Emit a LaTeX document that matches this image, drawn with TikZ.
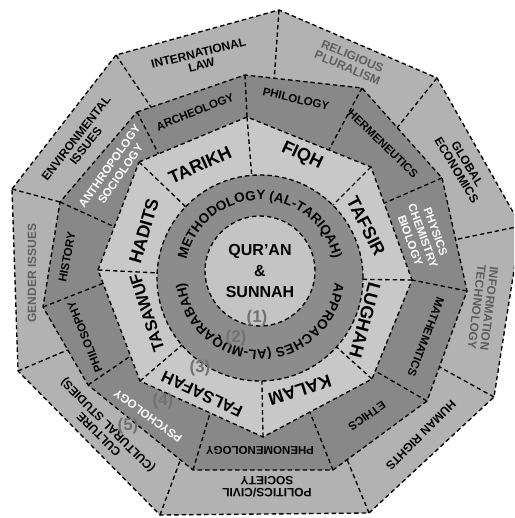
\documentclass[tikz,border=0pt]{standalone}
\usepackage{fontspec}
\setmainfont{Liberation Sans}
\usetikzlibrary{calc,decorations.text}
\definecolor{outerc}{HTML}{B2B2B2}
\definecolor{darkc}{HTML}{888888}
\definecolor{octc}{HTML}{C8C8C8}
\definecolor{methc}{HTML}{8C8C8C}
\definecolor{innerc}{HTML}{C4C4C4}
\definecolor{lbgray}{HTML}{5E5E5E}
\definecolor{numgray}{HTML}{727272}
\begin{document}
\begin{tikzpicture}[x=1pt,y=-1pt,
  dl/.style={draw=black, line width=1.35pt, dash pattern=on 4.5pt off 3pt},
  outerlbl/.style={font=\bfseries\fontsize{12}{12.5}\selectfont, align=center, inner sep=0pt},
  midlbl/.style={font=\bfseries\fontsize{11.5}{13.5}\selectfont, align=center, inner sep=0pt},
  octlbl/.style={font=\bfseries\fontsize{18}{19}\selectfont, inner sep=0pt},
  octsmall/.style={font=\bfseries\fontsize{16.5}{18}\selectfont, inner sep=0pt},
  numlbl/.style={font=\bfseries\fontsize{17}{17}\selectfont, text=numgray, inner sep=0pt},
  cenlbl/.style={font=\bfseries\fontsize{16}{21}\selectfont, align=center, inner sep=0pt}]
\useasboundingbox (0,0) rectangle (514,518);
\clip (0,0) rectangle (514,518);
% outer boundary
\coordinate (o1) at (12,189);
\coordinate (o2) at (116,55);
\coordinate (o3) at (279,10);
\coordinate (o4) at (437,78);
\coordinate (o5) at (521,226);
\coordinate (o6) at (494,397);
\coordinate (o7) at (369,513);
\coordinate (o8) at (160,515);
\coordinate (o9) at (18,371);
% dark ring outer boundary
\coordinate (b1) at (137,112);
\coordinate (b2) at (245,75);
\coordinate (b3) at (362,88);
\coordinate (b4) at (442,178);
\coordinate (b5) at (467,291);
\coordinate (b6) at (427,401);
\coordinate (b7) at (333,470);
\coordinate (b8) at (193,470);
\coordinate (b9) at (88,385);
\coordinate (b10) at (43,307);
\coordinate (b11) at (60,202);
% octagon boundary
\coordinate (c1) at (139,162);
\coordinate (c2) at (247,117);
\coordinate (c3) at (371,167);
\coordinate (c4) at (412,280);
\coordinate (c5) at (372,379);
\coordinate (c6) at (263,437);
\coordinate (c7) at (140,381);
\coordinate (c8) at (98,270);
% circles
\coordinate (m) at (260,278);
\coordinate (q) at (260,271);
\coordinate (mt) at (260,275);
% fills
\fill[outerc] (o1)--(o2)--(o3)--(o4)--(o5)--(o6)--(o7)--(o8)--(o9)--cycle;
\fill[darkc] (b1)--(b2)--(b3)--(b4)--(b5)--(b6)--(b7)--(b8)--(b9)--(b10)--(b11)--cycle;
\fill[octc] (c1)--(c2)--(c3)--(c4)--(c5)--(c6)--(c7)--(c8)--cycle;
\fill[methc] (m) circle[radius=103pt];
\fill[innerc] (q) circle[radius=55pt];
% outlines
\draw[dl] (o1)--(o2)--(o3)--(o4)--(o5)--(o6)--(o7)--(o8)--(o9)--cycle;
\draw[dl] (b1)--(b2)--(b3)--(b4)--(b5)--(b6)--(b7)--(b8)--(b9)--(b10)--(b11)--cycle;
\draw[dl] (c1)--(c2)--(c3)--(c4)--(c5)--(c6)--(c7)--(c8)--cycle;
\draw[dl] (m) circle[radius=103pt];
\draw[dl] (q) circle[radius=55pt];
% outer ring dividers
\draw[dl] (o2) -- ($(b1)!0.13!(b2)$);
\draw[dl] (o3) -- ($(b2)!0.25!(b3)$);
\draw[dl] (o4) -- ($(b3)!0.44!(b4)$);
\draw[dl] (o5) -- ($(b4)!0.545!(b5)$);
\draw[dl] (o6) -- ($(b5)!0.69!(b6)$);
\draw[dl] (o7) -- ($(b6)!0.85!(b7)$);
\draw[dl] (o8) -- ($(b8)!0.12!(b9)$);
\draw[dl] (o9) -- ($(b9)!0.45!(b10)$);
\draw[dl] (o1) -- (b11);
% dark ring dividers
\draw[dl] (b1) -- ($(c1)!0.18!(c2)$);
\draw[dl] (b2) -- (c2);
\draw[dl] (b3) -- ($(c2)!0.66!(c3)$);
\draw[dl] (b4) -- ($(c3)!0.32!(c4)$);
\draw[dl] (b5) -- (c4);
\draw[dl] (b6) -- ($(c4)!0.92!(c5)$);
\draw[dl] (b7) -- ($(c5)!0.57!(c6)$);
\draw[dl] (b8) -- ($(c6)!0.43!(c7)$);
\draw[dl] (b9) -- ($(c7)!0.225!(c8)$);
\draw[dl] (b10) -- ($(c8)!0.12!(c7)$);
\draw[dl] (b11) -- ($(c8)!0.40!(c1)$);
% octagon dividers
\foreach \i in {1,...,8} {\draw[dl] (c\i) -- ($(m)!103pt!(c\i)$);}
% outer ring labels
\node[outerlbl, rotate=14] (l1) at (200,59) {INTERNATIONAL\\LAW};
\node[outerlbl, rotate=-23, text=lbgray] (l2) at (350,62) {RELIGIOUS\\PLURALISM};
\node[outerlbl, rotate=-59] (l3) at (462,167) {GLOBAL\\ECONOMICS};
\node[outerlbl, rotate=-97, text=lbgray] (l4) at (483,308) {INFORMATION\\TECHNOLOGY};
\node[outerlbl, rotate=-135] (l5) at (421,435) {HUMAN RIGHTS};
\node[outerlbl, rotate=180] (l6) at (267,487) {POLITICS/CIVIL\\SOCIETY};
\node[outerlbl, rotate=135] (l7) at (104,429) {CULTURE\\(CULTURAL STUDIES)};
\node[outerlbl, rotate=90, text=lbgray] (l8) at (32,273) {GENDER ISSUES};
\node[outerlbl, rotate=52] (l9) at (81,142) {ENVIRONMENTAL\\ISSUES};
% dark ring labels
\node[midlbl, rotate=22] (m1) at (195,112) {ARCHEOLOGY};
\node[midlbl, rotate=-13] (m2) at (296,99) {PHILOLOGY};
\node[midlbl, rotate=-44] (m3) at (383,144) {HERMENEUTICS};
\node[midlbl, rotate=-70, text=white] (m4) at (423,236) {PHYSICS\\CHEMISTRY\\BIOLOGY};
\node[midlbl, rotate=-111] (m5) at (426,337) {MATHEMATICS};
\node[midlbl, rotate=-145] (m6) at (367,416) {ETHICS};
\node[midlbl, rotate=180] (m7) at (260,450) {PHENOMENOLOGY};
\node[midlbl, rotate=144, text=white] (m8) at (148,416) {PSYCHOLOGY};
\node[midlbl, rotate=112] (m9) at (85,337) {PHILOSOPHY};
\node[midlbl, rotate=79] (m10) at (67,257) {HISTORY};
\node[midlbl, rotate=55, text=white] (m11) at (115,170) {ANTHROPOLOGY\\SOCIOLOGY};
% octagon labels
\node[octlbl, rotate=24] (k1) at (200,165) {TARIKH};
\node[octlbl, rotate=-25] (k2) at (302,156) {FIQH};
\node[octlbl, rotate=-63] (k3) at (366,226) {TAFSIR};
\node[octlbl, rotate=-105] (k4) at (365,320) {LUGHAH};
\node[octlbl, rotate=198] (k5) at (300,390) {KALAM};
\node[octsmall, rotate=155] (k6) at (202,394) {FALSAFAH};
\node[octsmall, rotate=108] (k7) at (147,313) {TASAWUF};
\node[octlbl, rotate=74] (k8) at (144,231) {HADITS};
% ring text
\path[decorate, decoration={text along path, text align=center,
  text={|\bfseries\fontsize{13.5}{13.5}\selectfont|METHODOLOGY (AL-TARIQAH)}}]
  ($(mt)+(190:75pt)$) arc[start angle=190, end angle=-10, radius=75pt];
\path[decorate, decoration={text along path, text align=center,
  text={|\bfseries\fontsize{13.5}{13.5}\selectfont|APPROACHES (AL-MUQARABAH)}}]
  ($(mt)+(10:75pt)$) arc[start angle=10, end angle=-190, radius=75pt];
% centre
\node[cenlbl] (qs) at (260,271) {QUR'AN\\\&\\SUNNAH};
% numbers
\node[numlbl] (n1) at (257,318) {(1)};
\node[numlbl] (n2) at (236,338) {(2)};
\node[numlbl] (n3) at (200,368) {(3)};
\node[numlbl] (n4) at (163,401) {(4)};
\node[numlbl] (n5) at (128,426) {(5)};
\end{tikzpicture}
\end{document}
